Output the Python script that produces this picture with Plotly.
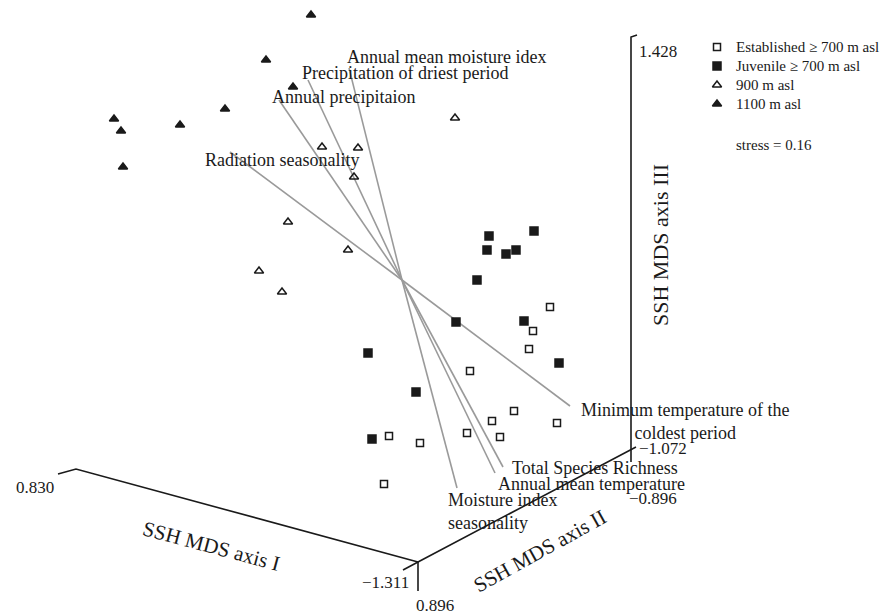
import plotly.graph_objects as go

# ---- data: projected ordination positions (plot units) ----
est_x = [550, 533, 529, 470, 514, 492, 557, 467, 500, 389, 420, 384]
est_y = [307, 331, 349, 371, 411, 421, 423, 433, 437, 436, 443, 484]

juv_x = [489, 534, 487, 506, 516, 477, 456, 524, 559, 368, 416, 372]
juv_y = [236, 231, 250, 254, 250, 280, 322, 321, 363, 353, 392, 439]

m900_x = [322, 358, 354, 455, 288, 348, 259, 282]
m900_y = [147, 148, 177, 118, 222, 250, 271, 292]

m1100_x = [311, 266, 293, 225, 114, 121, 180, 123]
m1100_y = [15, 60, 87, 109, 119, 131, 125, 167]

# environmental vectors (origin and tips)
vec_origin = (402, 280)
vec_names = ["Annual mean moisture idex", "Precipitation of driest period",
             "Annual precipitaion", "Radiation seasonality",
             "Minimum temperature of the<br>coldest period", "Total Species Richness",
             "Annual mean temperature", "Moisture index<br>seasonality"]
vec_tip_x = [349, 308, 279, 230, 570, 503, 495, 457]
vec_tip_y = [68, 80, 100, 152, 406, 467, 473, 488]
vec_lab_x = [345, 300, 270, 203, 685, 510, 496, 446]
vec_lab_y = [57, 73, 97, 160, 421, 468, 484, 511]
vec_lab_anchor = ["left", "left", "left", "left", "center", "left", "left", "left"]

# axis frame (projected box edges) and tick labels
frame_x = [58, 76, 418, None, 403, 418, 636, None, 418, 418, None, 631, 631, 637]
frame_y = [474, 469, 562, None, 570, 562, 447, None, 562, 591, None, 462, 37, 35]
tick_text = ["0.830", "\u22121.311", "0.896", "\u22121.072", "\u22120.896", "1.428"]
tick_x = [35, 385, 435, 663, 653, 658]
tick_y = [487, 582, 605, 448, 498, 51]

axis_titles = ["SSH MDS axis I", "SSH MDS axis II", "SSH MDS axis III"]
axis_title_x = [211, 540, 660]
axis_title_y = [546, 551, 245]
axis_title_angle = [15, -29, -90]
axis_title_size = [21, 21, 22]

legend_names = ["Established \u2265 700 m asl", "Juvenile \u2265 700 m asl", "900 m asl", "1100 m asl"]
legend_y = [47, 66, 85, 104]
stress_text = "stress = 0.16"

FONT = "Liberation Serif, Times New Roman, serif"
INK = "#1a1a1a"
W, H = 887, 616

fig = go.Figure()

# frame
fig.add_trace(go.Scatter(x=frame_x, y=frame_y, mode="lines",
                         line=dict(color=INK, width=1.6), hoverinfo="skip", showlegend=False))

# vectors
vx, vy = [], []
for tx, ty in zip(vec_tip_x, vec_tip_y):
    vx += [vec_origin[0], tx, None]
    vy += [vec_origin[1], ty, None]
fig.add_trace(go.Scatter(x=vx, y=vy, mode="lines",
                         line=dict(color="#9a9a9a", width=1.6), hoverinfo="skip", showlegend=False))

styles = [
    (est_x, est_y, "square-open", 7, legend_names[0]),
    (juv_x, juv_y, "square", 8, legend_names[1]),
    (m900_x, m900_y, "triangle-up-open", 8, legend_names[2]),
    (m1100_x, m1100_y, "triangle-up", 8, legend_names[3]),
]
for (xs, ys, sym, sz, name) in styles:
    fig.add_trace(go.Scatter(x=xs, y=ys, mode="markers", name=name,
                             marker=dict(symbol=sym, size=sz, color=INK,
                                         line=dict(color=INK, width=1.5)),
                             showlegend=False))

# manual legend
leg_mx = 717
for (xs, ys, sym, sz, name), ly in zip(styles, legend_y):
    fig.add_trace(go.Scatter(x=[leg_mx], y=[ly], mode="markers",
                             marker=dict(symbol=sym, size=sz, color=INK,
                                         line=dict(color=INK, width=1.5)),
                             hoverinfo="skip", showlegend=False))
    fig.add_annotation(x=734, y=ly, text=name, showarrow=False, xanchor="left",
                       yanchor="middle", font=dict(family=FONT, size=15, color=INK))
fig.add_annotation(x=734, y=145, text=stress_text, showarrow=False, xanchor="left",
                   yanchor="middle", font=dict(family=FONT, size=15, color=INK))

# vector labels
for name, lx, ly, anc in zip(vec_names, vec_lab_x, vec_lab_y, vec_lab_anchor):
    fig.add_annotation(x=lx, y=ly, text=name, showarrow=False, xanchor=anc,
                       yanchor="middle", align=anc,
                       font=dict(family=FONT, size=18, color=INK))

# tick labels
for t, tx, ty in zip(tick_text, tick_x, tick_y):
    fig.add_annotation(x=tx, y=ty, text=t, showarrow=False, xanchor="center",
                       yanchor="middle", font=dict(family=FONT, size=17, color=INK))

# axis titles
for t, tx, ty, ang, sz in zip(axis_titles, axis_title_x, axis_title_y,
                              axis_title_angle, axis_title_size):
    fig.add_annotation(x=tx, y=ty, text=t, showarrow=False, textangle=ang,
                       xanchor="center", yanchor="middle",
                       font=dict(family=FONT, size=sz, color=INK))

fig.update_layout(
    width=W, height=H, margin=dict(l=0, r=0, t=0, b=0),
    paper_bgcolor="white", plot_bgcolor="white",
    xaxis=dict(range=[0, W], visible=False, fixedrange=True),
    yaxis=dict(range=[H, 0], visible=False, fixedrange=True),
)

fig.write_html("out.html")
